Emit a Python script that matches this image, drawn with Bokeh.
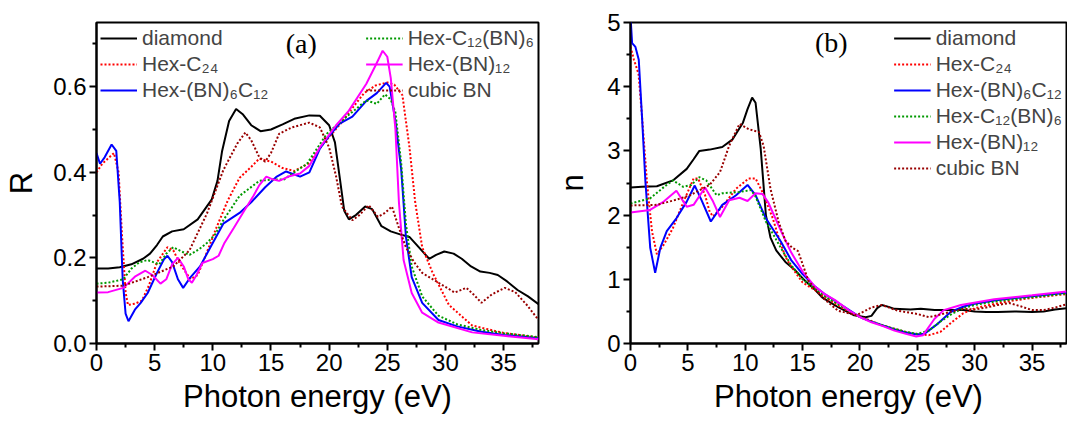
from bokeh.plotting import figure
from bokeh.layouts import row
from bokeh.models import Range1d, FixedTicker, Legend, LegendItem, Label, PrintfTickFormatter
from bokeh.embed import file_html
from bokeh.resources import INLINE

# ---------------- data (Photon energy eV, value) ----------------
x_ticks = [0, 5, 10, 15, 20, 25, 30, 35]
x_minor = [2.5, 7.5, 12.5, 17.5, 22.5, 27.5, 32.5, 37.5]
a_y_ticks = [0.0, 0.2, 0.4, 0.6]
a_y_minor = [0.1, 0.3, 0.5, 0.7]
b_y_ticks = [0, 1, 2, 3, 4, 5]
b_y_minor = [0.5, 1.5, 2.5, 3.5, 4.5]

labels = ["diamond", "Hex-C\u2082\u2084", "Hex-(BN)\u2086C\u2081\u2082",
          "Hex-C\u2081\u2082(BN)\u2086", "Hex-(BN)\u2081\u2082", "cubic BN"]

# panel (a): reflectivity R
a_diamond = [(0, 0.175), (1, 0.175), (2, 0.178), (3, 0.185), (4, 0.198), (4.6, 0.21), (5.2, 0.23),
             (5.7, 0.25), (6.5, 0.262), (7.5, 0.267), (8.7, 0.29), (9.9, 0.336), (10.4, 0.38),
             (10.8, 0.45), (11.4, 0.52), (12.0, 0.548), (12.6, 0.535), (13.3, 0.51), (14.1, 0.496),
             (15, 0.50), (16, 0.512), (17, 0.525), (18.3, 0.533), (19.2, 0.532), (20, 0.51),
             (20.5, 0.47), (20.9, 0.39), (21.3, 0.31), (21.7, 0.29), (22.3, 0.30), (23.1, 0.32),
             (23.7, 0.314), (24.5, 0.274), (25.3, 0.262), (26.1, 0.255), (26.9, 0.249), (27.7, 0.225),
             (28.6, 0.198), (29.2, 0.207), (29.9, 0.215), (30.7, 0.21), (31.4, 0.198), (32.2, 0.18),
             (33.0, 0.168), (33.8, 0.165), (34.5, 0.16), (35.3, 0.145), (36.2, 0.125), (37.1, 0.11),
             (38, 0.092)]
a_hexc24 = [(0, 0.40), (0.5, 0.42), (1.5, 0.445), (1.9, 0.40), (2.2, 0.25), (2.5, 0.12), (2.7, 0.09),
            (3.3, 0.093), (3.9, 0.10), (4.5, 0.135), (5.2, 0.19), (6.1, 0.225), (6.6, 0.218),
            (7.1, 0.19), (7.7, 0.165), (8.1, 0.15), (8.7, 0.16), (9.3, 0.20), (10.3, 0.27),
            (11.3, 0.335), (12.3, 0.387), (13.2, 0.41), (14.0, 0.432), (15.0, 0.425), (16.0, 0.41),
            (17.0, 0.403), (18.2, 0.42), (19.6, 0.47), (21.0, 0.514), (22.0, 0.55), (23.0, 0.585),
            (24.0, 0.603), (25.0, 0.61), (25.6, 0.605), (26.3, 0.58), (26.9, 0.46), (27.4, 0.33),
            (28.0, 0.225), (28.9, 0.165), (30.3, 0.09), (32.3, 0.042), (35.1, 0.024), (38, 0.014)]
a_bn6c12 = [(0, 0.445), (0.3, 0.42), (0.7, 0.435), (1.3, 0.465), (1.7, 0.45), (2.0, 0.33), (2.25, 0.15),
            (2.5, 0.07), (2.75, 0.052), (3.3, 0.079), (3.8, 0.095), (4.4, 0.118), (5.2, 0.165),
            (5.8, 0.197), (6.1, 0.205), (6.5, 0.19), (7.0, 0.15), (7.45, 0.13), (8.0, 0.152),
            (8.9, 0.18), (9.9, 0.23), (10.9, 0.28), (12.3, 0.305), (13.3, 0.33), (14.5, 0.365),
            (15.5, 0.39), (16.3, 0.402), (17.5, 0.39), (18.3, 0.40), (19.2, 0.455), (20.0, 0.485),
            (20.9, 0.514), (22.0, 0.53), (23.2, 0.567), (24.1, 0.585), (24.9, 0.609), (25.2, 0.60),
            (25.7, 0.52), (26.2, 0.405), (26.6, 0.25), (27.1, 0.155), (28.0, 0.095), (29.4, 0.055),
            (31.0, 0.04), (33.0, 0.028), (35.0, 0.02), (38.0, 0.012)]
a_c12bn6 = [(0, 0.14), (1.0, 0.142), (2.3, 0.15), (3.0, 0.175), (3.7, 0.19), (4.4, 0.195), (5.4, 0.185),
            (6.0, 0.21), (6.6, 0.225), (7.3, 0.215), (8.0, 0.207), (8.8, 0.22), (9.5, 0.235),
            (10.2, 0.255), (10.9, 0.288), (12.3, 0.345), (14.0, 0.38), (15.0, 0.383), (16.1, 0.383),
            (17.0, 0.40), (18.1, 0.42), (19.8, 0.49), (21.5, 0.53), (23.2, 0.568), (24.1, 0.56),
            (24.8, 0.582), (25.3, 0.57), (25.7, 0.54), (26.2, 0.42), (26.6, 0.28), (27.1, 0.18),
            (28.0, 0.11), (29.4, 0.065), (31.0, 0.045), (33.0, 0.032), (35.0, 0.024), (38.0, 0.015)]
a_bn12 = [(0, 0.119), (1.0, 0.12), (2.3, 0.13), (3.3, 0.156), (4.2, 0.17), (4.8, 0.16), (5.5, 0.14),
          (6.0, 0.15), (6.5, 0.185), (7.0, 0.20), (7.5, 0.18), (7.9, 0.15), (8.2, 0.142), (8.6, 0.16),
          (9.1, 0.188), (10.0, 0.197), (10.5, 0.205), (11.0, 0.235), (11.8, 0.27), (12.7, 0.31),
          (13.5, 0.345), (14.0, 0.37), (14.6, 0.39), (15.2, 0.383), (15.7, 0.38), (16.5, 0.39),
          (17.5, 0.397), (18.3, 0.415), (19.2, 0.458), (20.6, 0.51), (21.7, 0.544), (23.2, 0.607),
          (24.0, 0.65), (24.6, 0.684), (25.0, 0.67), (25.3, 0.62), (25.7, 0.50), (26.0, 0.33),
          (26.4, 0.195), (27.1, 0.118), (28.0, 0.072), (29.4, 0.049), (32.3, 0.026), (35.0, 0.018),
          (38.0, 0.01)]
a_cbn = [(0, 0.133), (2.3, 0.135), (4.4, 0.155), (6.6, 0.18), (8.0, 0.218), (9.5, 0.304), (10.9, 0.405),
         (12.1, 0.467), (12.8, 0.493), (13.3, 0.475), (14.0, 0.435), (14.5, 0.425), (15.0, 0.445),
         (15.7, 0.49), (16.8, 0.505), (18.3, 0.516), (19.2, 0.505), (20.0, 0.458), (20.6, 0.39),
         (21.1, 0.32), (22.0, 0.288), (22.6, 0.30), (23.4, 0.323), (24.2, 0.296), (24.8, 0.305),
         (25.4, 0.32), (26.0, 0.27), (26.6, 0.225), (27.3, 0.19), (28.0, 0.165), (29.4, 0.142),
         (30.8, 0.119), (31.8, 0.13), (32.4, 0.115), (33.1, 0.095), (34.0, 0.115), (35.1, 0.13),
         (36.0, 0.12), (37.0, 0.09), (38.0, 0.055)]

# panel (b): refractive index n
b_diamond = [(0, 2.43), (1.0, 2.44), (2.3, 2.45), (3.7, 2.54), (4.9, 2.72), (5.5, 2.87), (6.0, 3.0),
             (6.9, 3.02), (8.0, 3.06), (8.9, 3.18), (9.8, 3.44), (10.2, 3.65), (10.6, 3.83),
             (10.9, 3.75), (11.35, 3.03), (11.8, 2.0), (12.2, 1.65), (12.7, 1.45), (13.5, 1.27),
             (14.3, 1.15), (15.2, 0.98), (16.0, 0.85), (16.7, 0.72), (18.1, 0.565), (19.5, 0.44),
             (20.5, 0.41), (21.0, 0.43), (21.5, 0.55), (21.9, 0.6), (22.5, 0.57), (23.0, 0.54),
             (24.4, 0.53), (25.3, 0.54), (26.5, 0.52), (28.0, 0.52), (29.0, 0.52), (30.0, 0.5),
             (31.0, 0.49), (32.0, 0.49), (33.5, 0.5), (35.0, 0.49), (36.0, 0.5), (37.0, 0.53),
             (38.0, 0.55)]
b_hexc24 = [(0, 4.62), (0.3, 4.42), (0.7, 4.2), (1.0, 3.55), (1.44, 2.5), (1.87, 1.75), (2.3, 1.39),
            (2.9, 1.54), (3.7, 1.8), (4.6, 2.2), (5.5, 2.57), (5.9, 2.57), (6.5, 2.31), (6.9, 2.05),
            (7.2, 1.98), (8.0, 2.13), (9.2, 2.41), (10.3, 2.57), (10.9, 2.57), (11.5, 2.36),
            (12.4, 1.95), (13.0, 1.6), (13.5, 1.35), (14.0, 1.2), (15.0, 0.95), (16.0, 0.84),
            (17.0, 0.72), (18.0, 0.6), (19.0, 0.5), (20.0, 0.42), (21.0, 0.35), (22.0, 0.28),
            (23.0, 0.23), (24.0, 0.18), (25.0, 0.145), (26.0, 0.13), (27.0, 0.18), (28.0, 0.33),
            (29.0, 0.47), (30.0, 0.55), (31.0, 0.59), (33.0, 0.66), (35.0, 0.71), (38.0, 0.77)]
b_bn6c12 = [(0, 5.1), (0.14, 4.68), (0.43, 4.62), (0.72, 4.42), (1.0, 3.54), (1.3, 2.52), (1.72, 1.49),
            (2.15, 1.1), (2.6, 1.49), (3.16, 1.75), (4.0, 1.95), (4.9, 2.21), (5.6, 2.46), (6.2, 2.23),
            (7.0, 1.9), (8.0, 2.16), (9.2, 2.31), (10.2, 2.47), (10.9, 2.31), (11.8, 1.95),
            (13.1, 1.59), (14.0, 1.3), (15.0, 1.08), (16.0, 0.9), (17.0, 0.76), (17.8, 0.67),
            (19.0, 0.53), (20.0, 0.41), (21.0, 0.34), (22.0, 0.28), (23.0, 0.22), (24.0, 0.17),
            (25.0, 0.14), (25.6, 0.15), (26.8, 0.31), (27.9, 0.49), (29.1, 0.58), (30.0, 0.62),
            (31.7, 0.67), (34.6, 0.73), (38.0, 0.79)]
b_c12bn6 = [(0, 2.18), (1.7, 2.26), (3.0, 2.45), (3.7, 2.54), (4.6, 2.44), (5.3, 2.47), (6.0, 2.59),
            (6.6, 2.54), (7.5, 2.31), (8.0, 2.34), (9.5, 2.36), (10.5, 2.39), (10.9, 2.29), (11.8, 1.9),
            (13.1, 1.49), (14.0, 1.22), (15.0, 1.0), (16.0, 0.86), (17.0, 0.73), (18.0, 0.62),
            (19.0, 0.51), (20.0, 0.41), (21.0, 0.34), (22.0, 0.28), (23.0, 0.23), (24.0, 0.18),
            (25.0, 0.15), (26.0, 0.2), (27.0, 0.34), (28.0, 0.46), (29.0, 0.55), (30.0, 0.6),
            (32.0, 0.66), (34.0, 0.7), (36.0, 0.74), (38.0, 0.78)]
b_bn12 = [(0, 2.04), (1.7, 2.08), (2.9, 2.21), (4.0, 2.38), (4.9, 2.13), (5.5, 2.16), (6.5, 2.43),
          (7.2, 2.21), (7.8, 1.97), (8.6, 2.23), (9.5, 2.27), (10.2, 2.22), (10.9, 2.34), (11.5, 2.33),
          (12.0, 2.2), (13.2, 1.72), (14.0, 1.42), (15.0, 1.12), (16.0, 0.9), (17.0, 0.76),
          (17.8, 0.68), (19.0, 0.52), (20.0, 0.41), (21.0, 0.33), (22.0, 0.27), (23.0, 0.2),
          (24.0, 0.15), (24.9, 0.11), (25.5, 0.13), (26.5, 0.385), (27.3, 0.52), (28.8, 0.6),
          (31.7, 0.69), (35.0, 0.75), (38.0, 0.81)]
b_cbn = [(0, 2.15), (2.3, 2.16), (4.0, 2.24), (5.2, 2.31), (6.9, 2.47), (7.8, 2.67), (8.6, 3.08),
         (9.5, 3.42), (10.3, 3.34), (11.2, 3.29), (11.6, 3.08), (12.2, 2.41), (12.9, 1.9), (13.5, 1.6),
         (14.1, 1.49), (14.6, 1.44), (15.5, 0.98), (16.7, 0.72), (18.1, 0.51), (19.7, 0.44),
         (21.0, 0.56), (21.9, 0.6), (23.3, 0.51), (25.0, 0.46), (26.0, 0.41), (27.0, 0.45),
         (28.0, 0.5), (29.0, 0.54), (30.0, 0.53), (31.0, 0.56), (32.0, 0.6), (33.0, 0.63),
         (34.0, 0.58), (35.0, 0.52), (36.0, 0.52), (37.0, 0.56), (38.0, 0.61)]

# ---------------- styles ----------------
colors = ["#000000", "#FF0000", "#0000FF", "#009900", "#FF00FF", "#990000"]
dashes = ["solid", "2 2", "solid", "2 2", "solid", "2 2"]
FONT = "Liberation Sans"


def style(p, yticks, yminor, ylabel, fmt, ystand):
    p.xaxis.ticker = FixedTicker(ticks=x_ticks, minor_ticks=x_minor)
    p.yaxis.ticker = FixedTicker(ticks=yticks, minor_ticks=yminor)
    p.yaxis.formatter = PrintfTickFormatter(format=fmt)
    p.xaxis.axis_label = "Photon energy (eV)"
    p.yaxis.axis_label = ylabel
    for ax in (p.xaxis, p.yaxis):
        ax.axis_line_width = 2
        ax.major_tick_line_width = 2
        ax.minor_tick_line_width = 2
        ax.major_tick_in = 0
        ax.major_tick_out = 7
        ax.minor_tick_in = 0
        ax.minor_tick_out = 4
        ax.major_label_text_font = FONT
        ax.major_label_text_font_size = "24px"
        ax.major_label_text_color = "black"
        ax.axis_label_text_font = FONT
        ax.axis_label_text_font_size = "31px"
        ax.axis_label_text_font_style = "normal"
        ax.axis_label_text_color = "black"
        ax.major_label_standoff = 3
    p.xaxis.axis_label_standoff = 5
    p.yaxis.axis_label_standoff = ystand
    p.grid.visible = False
    p.outline_line_color = "black"
    p.outline_line_width = 2
    p.background_fill_color = "white"


def mk_legend(items, loc):
    lg = Legend(items=items, location=loc)
    lg.label_text_font = FONT
    lg.label_text_font_size = "21px"
    lg.glyph_width = 37
    lg.glyph_height = 20
    lg.label_height = 20
    lg.label_standoff = 5
    lg.spacing = 2
    lg.padding = 2
    lg.margin = 2
    lg.border_line_alpha = 0
    lg.background_fill_alpha = 0
    return lg


# ---------------- panel (a) ----------------
pa = figure(frame_width=442, frame_height=321, output_backend="svg", toolbar_location=None,
            x_range=Range1d(0, 38), y_range=Range1d(0, 0.75),
            min_border_left=96, min_border_right=14, min_border_top=22, min_border_bottom=0)
style(pa, a_y_ticks, a_y_minor, "R", "%.1f", 11)
rend_a = []
for data, c, d in zip([a_diamond, a_hexc24, a_bn6c12, a_c12bn6, a_bn12, a_cbn], colors, dashes):
    xs = [q[0] for q in data]
    ys = [q[1] for q in data]
    rend_a.append(pa.line(xs, ys, line_color=c, line_width=2, line_dash=d))
pa.add_layout(mk_legend([LegendItem(label=labels[i], renderers=[rend_a[i]]) for i in range(3)], "top_left"))
pa.add_layout(mk_legend([LegendItem(label=labels[i], renderers=[rend_a[i]]) for i in range(3, 6)], "top_right"))
pa.add_layout(Label(x=17.6, y=0.702, text="(a)", text_font="Liberation Serif", text_font_size="28px",
                    text_align="center", text_baseline="middle", text_color="black"))

# ---------------- panel (b) ----------------
pb = figure(frame_width=436, frame_height=321, output_backend="svg", toolbar_location=None,
            x_range=Range1d(0, 38), y_range=Range1d(0, 5),
            min_border_left=76, min_border_right=2, min_border_top=22, min_border_bottom=0)
style(pb, b_y_ticks, b_y_minor, "n", "%d", 14)
rend_b = []
for data, c, d in zip([b_diamond, b_hexc24, b_bn6c12, b_c12bn6, b_bn12, b_cbn], colors, dashes):
    xs = [q[0] for q in data]
    ys = [q[1] for q in data]
    rend_b.append(pb.line(xs, ys, line_color=c, line_width=2, line_dash=d))
pb.add_layout(mk_legend([LegendItem(label=labels[i], renderers=[rend_b[i]]) for i in range(6)], "top_right"))
pb.add_layout(Label(x=17.5, y=4.69, text="(b)", text_font="Liberation Serif", text_font_size="28px",
                    text_align="center", text_baseline="middle", text_color="black"))

layout = row(pa, pb)
open("out.html", "w").write(file_html(layout, INLINE))
